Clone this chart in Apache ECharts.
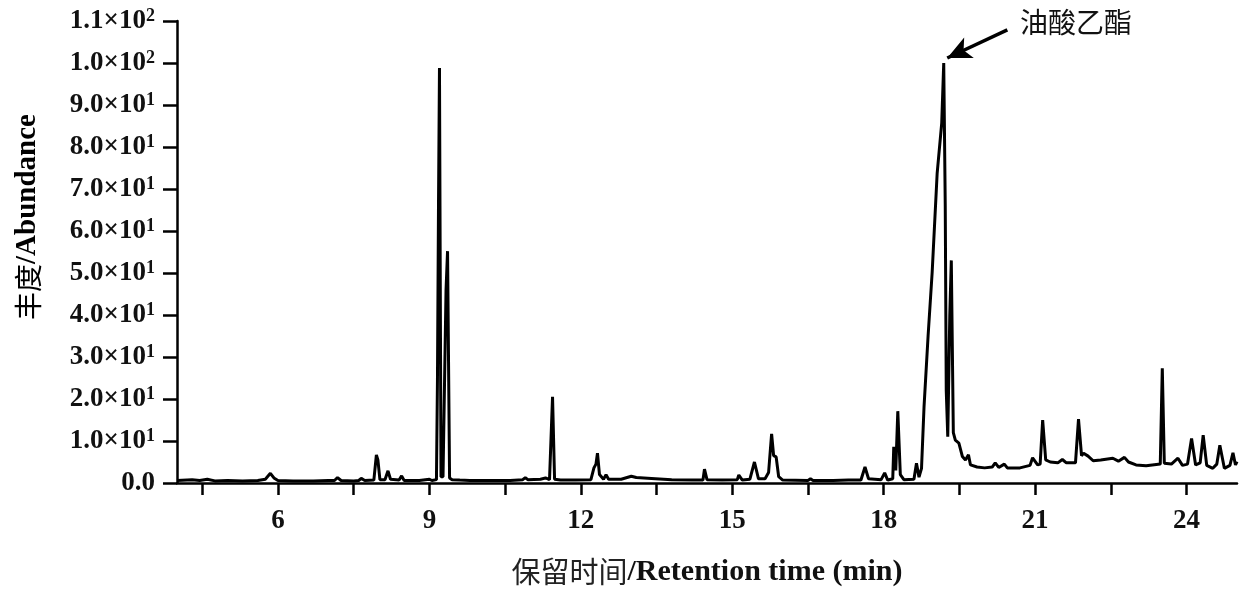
<!DOCTYPE html>
<html>
<head>
<meta charset="utf-8">
<script src="https://cdn.jsdelivr.net/npm/echarts@6.0.0/dist/echarts.min.js"></script>
<style>
html,body{margin:0;padding:0;background:#fff}
#chart{width:1250px;height:592px}
</style>
</head>
<body>
<div id="chart"></div>
<script>
// retention time (min) and abundance
var rt = [
  4.0, 4.3, 4.45, 4.6, 4.75, 5.0, 5.3, 5.6, 5.75, 5.85, 5.92, 6.0, 6.3, 6.7, 7.0, 7.12, 7.18, 7.25,
  7.5, 7.6, 7.65, 7.72, 7.9, 7.95, 7.98, 8.02, 8.12, 8.18, 8.23, 8.4, 8.45, 8.5, 8.8, 9.0, 9.05,
  9.14, 9.16, 9.18, 9.2, 9.23, 9.27, 9.33, 9.36, 9.4, 9.45, 9.6, 9.8, 10.2, 10.6, 10.85, 10.9, 10.95,
  11.2, 11.3, 11.38, 11.44, 11.48, 11.6, 11.9, 12.2, 12.26, 12.3, 12.33, 12.37, 12.45, 12.5, 12.55,
  12.8, 13.0, 13.1, 13.4, 13.8, 14.2, 14.42, 14.45, 14.5, 14.8, 15.1, 15.13, 15.2, 15.35, 15.44,
  15.52, 15.65, 15.72, 15.78, 15.82, 15.87, 15.92, 16.0, 16.5, 16.55, 16.6, 17.0, 17.3, 17.55,
  17.63, 17.7, 17.95, 18.02, 18.08, 18.18, 18.2, 18.24, 18.28, 18.33, 18.4, 18.6, 18.65, 18.7,
  18.75, 18.8, 18.88, 18.96, 19.06, 19.15, 19.19, 19.22, 19.24, 19.27, 19.31, 19.34, 19.38, 19.42,
  19.49, 19.56, 19.62, 19.68, 19.72, 19.85, 20.0, 20.15, 20.21, 20.28, 20.39, 20.45, 20.7, 20.9,
  20.95, 21.05, 21.1, 21.15, 21.21, 21.3, 21.45, 21.54, 21.62, 21.8, 21.86, 21.92, 21.96, 22.05,
  22.15, 22.3, 22.54, 22.65, 22.77, 22.85, 23.0, 23.2, 23.4, 23.48, 23.52, 23.56, 23.7, 23.83,
  23.92, 24.02, 24.1, 24.18, 24.27, 24.33, 24.4, 24.52, 24.6, 24.66, 24.75, 24.86, 24.92, 24.97, 25.0
];
var abundance = [
  0.6, 0.8, 0.6, 0.9, 0.5, 0.6, 0.5, 0.6, 0.9, 2.3, 1.2, 0.6, 0.5, 0.5, 0.6, 0.6, 1.3, 0.6,
  0.5, 0.6, 1.1, 0.6, 0.7, 6.7, 5.5, 0.8, 0.8, 2.9, 0.9, 0.7, 1.7, 0.6, 0.6, 0.9, 0.6,
  0.8, 24.5, 65, 98.8, 1.5, 1.5, 46, 55.2, 1.2, 0.8, 0.7, 0.6, 0.6, 0.6, 0.8, 1.3, 0.8,
  0.9, 1.2, 0.8, 20.5, 0.9, 0.7, 0.7, 0.8, 3.6, 4.5, 7.1, 2.0, 0.9, 2.0, 0.9,
  0.9, 1.6, 1.3, 1.1, 0.8, 0.7, 0.7, 3.3, 0.8, 0.7, 0.8, 1.9, 0.7, 0.9, 5.0,
  1.0, 1.0, 2.5, 11.7, 6.5, 6.2, 1.5, 0.7, 0.6, 1.0, 0.6, 0.6, 0.7, 0.7,
  3.8, 1.0, 0.8, 2.4, 0.7, 1.0, 8.6, 3.0, 17.1, 2.0, 0.8, 0.9, 4.7, 1.4,
  3.5, 18.2, 35, 50, 73.8, 85.7, 100, 66, 22, 11, 40, 53, 12, 10.2,
  9.5, 6.3, 5.5, 6.7, 4.3, 3.8, 3.6, 3.8, 4.8, 3.7, 4.5, 3.6, 3.6, 4.2,
  6.0, 4.3, 4.5, 15.0, 5.5, 5.0, 4.8, 5.6, 4.8, 4.8, 15.2, 6.5, 7.1, 6.4,
  5.3, 5.5, 5.9, 5.2, 6.1, 5.0, 4.3, 4.1, 4.4, 4.5, 27.3, 4.7, 4.5, 5.9,
  4.2, 4.5, 10.6, 4.3, 4.8, 11.4, 4.2, 3.5, 4.5, 9.0, 3.5, 4.2, 7.2, 4.3, 5.1
];
var xTicks = [4.5, 6, 7.5, 9, 10.5, 12, 13.5, 15, 16.5, 18, 19.5, 21, 22.5, 24];
var xLabels = [6, 9, 12, 15, 18, 21, 24];
var peakName = '油酸乙酯';
var arrowFrom = [20.45, 107.9];
var arrowTo = [19.26, 101.2];

var points = rt.map(function (t, i) { return [t, abundance[i]]; });

var myChart = echarts.init(document.getElementById('chart'));

var serif = '"Liberation Serif", "Times New Roman", serif';
var cjk = '"Noto Sans CJK SC", sans-serif';

var option = {
  animation: false,
  backgroundColor: '#fff',
  grid: { left: 177, right: 13, top: 21, bottom: 109, containLabel: false },
  xAxis: {
    type: 'value',
    min: 4,
    max: 25,
    name: '{c|保留时间}{e|/Retention time (min)}',
    nameLocation: 'middle',
    nameGap: 74,
    nameTextStyle: {
      rich: {
        c: { fontFamily: cjk, fontSize: 29, color: '#222' },
        e: { fontFamily: serif, fontSize: 30, fontWeight: 'bold', color: '#111' }
      }
    },
    axisLine: { lineStyle: { color: '#000', width: 2.5 } },
    axisTick: { length: 12, lineStyle: { color: '#000', width: 2.5 }, customValues: xTicks },
    axisLabel: {
      customValues: xLabels,
      margin: 25,
      fontFamily: serif, fontSize: 27, fontWeight: 'bold', color: '#111'
    },
    splitLine: { show: false }
  },
  yAxis: {
    type: 'value',
    min: 0,
    max: 110,
    interval: 10,
    axisLine: { show: true, lineStyle: { color: '#000', width: 2.5 } },
    axisTick: { show: true, length: 14, lineStyle: { color: '#000', width: 2.5 } },
    axisLabel: {
      margin: 22,
      formatter: function (v) {
        if (v === 0) return '{b|0.0}';
        var e = v >= 100 ? 2 : 1;
        return '{b|' + (v / Math.pow(10, e)).toFixed(1) + '×10}{s|' + e + '}';
      },
      rich: {
        b: { fontFamily: serif, fontSize: 27, fontWeight: 'bold', color: '#111' },
        s: { fontFamily: serif, fontSize: 18, fontWeight: 'bold', color: '#111', verticalAlign: 'top', padding: [0, 0, 10, 0] }
      }
    },
    splitLine: { show: false }
  },
  graphic: [
    {
      type: 'text',
      x: 28, y: 217,
      rotation: Math.PI / 2,
      style: {
        text: '{c|丰度}{e|/Abundance}',
        textAlign: 'center',
        textVerticalAlign: 'middle',
        rich: {
          c: { fontFamily: cjk, fontSize: 28, color: '#5a4a40' },
          e: { fontFamily: serif, fontSize: 29, fontWeight: 'bold', color: '#3a2b22' }
        }
      }
    },
    {
      type: 'text',
      left: 1020, top: 8,
      style: { text: peakName, fontFamily: cjk, fontSize: 28, fill: '#111' }
    }
  ],
  series: [{
    type: 'line',
    data: points,
    showSymbol: false,
    lineStyle: { color: '#000', width: 3 },
    markLine: {
      silent: true,
      symbol: ['none', 'arrow'],
      symbolSize: [17, 24],
      label: { show: false },
      lineStyle: { color: '#000', width: 3.5, type: 'solid' },
      data: [[{ coord: arrowFrom }, { coord: arrowTo }]]
    }
  }]
};

myChart.setOption(option);
</script>
</body>
</html>
